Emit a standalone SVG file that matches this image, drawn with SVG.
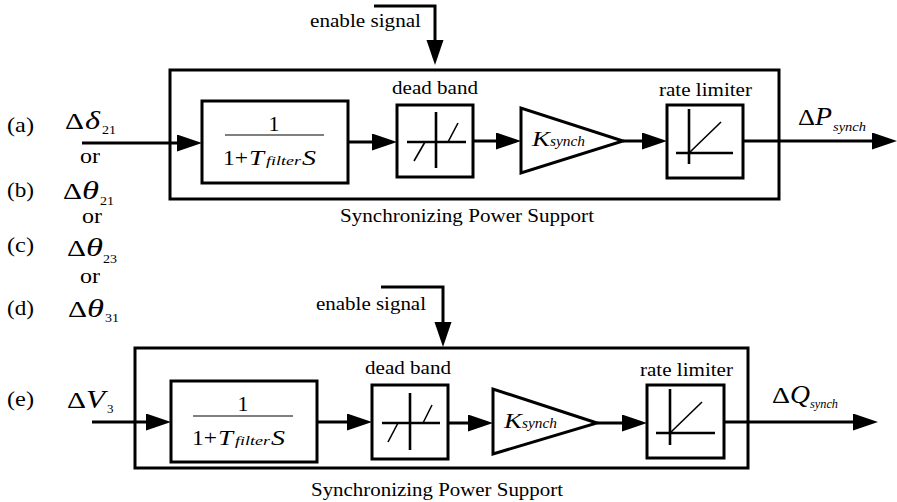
<svg xmlns="http://www.w3.org/2000/svg" width="897" height="502" viewBox="0 0 897 502">
<style>
.bx{fill:none;stroke:#000;stroke-width:3}
.ln{fill:none;stroke:#000;stroke-width:2.6}
.th{fill:none;stroke:#000;stroke-width:1.6}
.fr{stroke:#555;stroke-width:1.4}
.cn{fill:none;stroke:#000;stroke-width:3;marker-end:url(#ah)}
text{font-family:"Liberation Serif","Times New Roman",serif;fill:#000}
.t{font-size:19px}
.p{font-size:21px}
.m{font-size:22px}
.d{font-size:24px}
.g{font-size:25px}
.i{font-style:italic}
.s{font-size:13px}
</style>
<defs>
<marker id="ah" markerUnits="userSpaceOnUse" viewBox="0 0 26 18" markerWidth="26" markerHeight="18" refX="15" refY="8.5" orient="auto">
<path d="M0,0 L25,8.5 L0,17 z" fill="#000"/>
</marker>
</defs>
<rect width="897" height="502" fill="#fff"/>

<g id="inputs">
<text class="p" x="7" y="132" textLength="27" lengthAdjust="spacingAndGlyphs">(a)</text>
<text class="d" x="65" y="129" textLength="19" lengthAdjust="spacingAndGlyphs">Δ</text>
<text class="g i" x="85" y="129" textLength="15" lengthAdjust="spacingAndGlyphs">δ</text>
<text class="s" x="102" y="134" textLength="14" lengthAdjust="spacingAndGlyphs">21</text>
<text class="p" x="80" y="163" textLength="20" lengthAdjust="spacingAndGlyphs">or</text>
<text class="p" x="7" y="197" textLength="27" lengthAdjust="spacingAndGlyphs">(b)</text>
<text class="d" x="63" y="199" textLength="19" lengthAdjust="spacingAndGlyphs">Δ</text>
<text class="g i" x="82" y="199" textLength="17" lengthAdjust="spacingAndGlyphs">θ</text>
<text class="s" x="100" y="205" textLength="14" lengthAdjust="spacingAndGlyphs">21</text>
<text class="p" x="82" y="223" textLength="20" lengthAdjust="spacingAndGlyphs">or</text>
<text class="p" x="7" y="252" textLength="27" lengthAdjust="spacingAndGlyphs">(c)</text>
<text class="d" x="67" y="256" textLength="19" lengthAdjust="spacingAndGlyphs">Δ</text>
<text class="g i" x="86" y="256" textLength="17" lengthAdjust="spacingAndGlyphs">θ</text>
<text class="s" x="103" y="263" textLength="14" lengthAdjust="spacingAndGlyphs">23</text>
<text class="p" x="80" y="283" textLength="20" lengthAdjust="spacingAndGlyphs">or</text>
<text class="p" x="7" y="315" textLength="27" lengthAdjust="spacingAndGlyphs">(d)</text>
<text class="d" x="68" y="317" textLength="19" lengthAdjust="spacingAndGlyphs">Δ</text>
<text class="g i" x="87" y="317" textLength="17" lengthAdjust="spacingAndGlyphs">θ</text>
<text class="s" x="105" y="322" textLength="14" lengthAdjust="spacingAndGlyphs">31</text>
<text class="p" x="7" y="406" textLength="27" lengthAdjust="spacingAndGlyphs">(e)</text>
<text class="d" x="67" y="408" textLength="19" lengthAdjust="spacingAndGlyphs">Δ</text>
<text class="g i" x="86" y="408" textLength="19" lengthAdjust="spacingAndGlyphs">V</text>
<text class="s" x="107" y="413">3</text>
</g>

<g id="top-support">
<rect class="bx" x="170" y="70" width="609" height="129"/>
<text class="t" x="340" y="222" textLength="254" lengthAdjust="spacingAndGlyphs">Synchronizing Power Support</text>
</g>
<g id="top-enable">
<text class="t" x="310" y="27" textLength="111" lengthAdjust="spacingAndGlyphs">enable signal</text>
</g>
<g id="top-filter">
<rect class="bx" x="202" y="101" width="146" height="82"/>
<text class="m" x="274" y="131" text-anchor="middle">1</text>
<line class="fr" x1="225" y1="135" x2="324" y2="135"/>
<text class="m" x="223" y="165" textLength="25" lengthAdjust="spacingAndGlyphs">1+</text>
<text class="m i" x="249" y="165" textLength="15" lengthAdjust="spacingAndGlyphs">T</text>
<text class="s i" x="266" y="165" textLength="35" lengthAdjust="spacingAndGlyphs">filter</text>
<text class="m i" x="302" y="165" textLength="14" lengthAdjust="spacingAndGlyphs">S</text>
</g>
<g id="top-deadband">
<rect class="bx" x="397" y="105" width="76" height="72"/>
<line class="ln" x1="407" y1="142" x2="466" y2="142"/>
<line class="ln" x1="436" y1="112" x2="436" y2="168"/>
<line class="th" x1="414" y1="161" x2="425" y2="142"/>
<line class="th" x1="448" y1="142" x2="458" y2="123"/>
<text class="t" x="392" y="94" textLength="86" lengthAdjust="spacingAndGlyphs">dead band</text>
</g>
<g id="top-gain">
<polygon class="bx" points="521,108 521,173 623,141"/>
<text class="m i" x="532" y="146" textLength="18" lengthAdjust="spacingAndGlyphs">K</text>
<text class="s i" x="550" y="146" textLength="35" lengthAdjust="spacingAndGlyphs" style="font-size:15px">synch</text>
</g>
<g id="top-ratelimiter">
<rect class="bx" x="667" y="105" width="76" height="73"/>
<line class="ln" x1="689" y1="109" x2="689" y2="164"/>
<line class="ln" x1="676" y1="153" x2="733" y2="153"/>
<line class="th" x1="689" y1="153" x2="721" y2="122"/>
<text class="t" x="659" y="96" textLength="93" lengthAdjust="spacingAndGlyphs">rate limiter</text>
</g>
<g id="top-output">
<text class="d" x="798" y="125" textLength="17" lengthAdjust="spacingAndGlyphs">Δ</text>
<text class="g i" x="815" y="125" textLength="17" lengthAdjust="spacingAndGlyphs">P</text>
<text class="s i" x="833" y="131" textLength="33" lengthAdjust="spacingAndGlyphs">synch</text>
</g>

<g id="bottom-support">
<rect class="bx" x="135" y="348" width="613" height="120"/>
<text class="t" x="311" y="496" textLength="252" lengthAdjust="spacingAndGlyphs">Synchronizing Power Support</text>
</g>
<g id="bottom-enable">
<text class="t" x="316" y="310" textLength="110" lengthAdjust="spacingAndGlyphs">enable signal</text>
</g>
<g id="bottom-filter">
<rect class="bx" x="171" y="381" width="146" height="81"/>
<text class="m" x="243" y="411" text-anchor="middle">1</text>
<line class="fr" x1="193" y1="416" x2="293" y2="416"/>
<text class="m" x="192" y="445" textLength="25" lengthAdjust="spacingAndGlyphs">1+</text>
<text class="m i" x="218" y="445" textLength="15" lengthAdjust="spacingAndGlyphs">T</text>
<text class="s i" x="235" y="445" textLength="35" lengthAdjust="spacingAndGlyphs">filter</text>
<text class="m i" x="271" y="445" textLength="14" lengthAdjust="spacingAndGlyphs">S</text>
</g>
<g id="bottom-deadband">
<rect class="bx" x="372" y="385" width="76" height="74"/>
<line class="ln" x1="382" y1="423" x2="440" y2="423"/>
<line class="ln" x1="410" y1="393" x2="410" y2="450"/>
<line class="th" x1="388" y1="442" x2="398" y2="423"/>
<line class="th" x1="423" y1="423" x2="432" y2="405"/>
<text class="t" x="365" y="374" textLength="86" lengthAdjust="spacingAndGlyphs">dead band</text>
</g>
<g id="bottom-gain">
<polygon class="bx" points="493,389 493,454 597,423"/>
<text class="m i" x="504" y="428" textLength="18" lengthAdjust="spacingAndGlyphs">K</text>
<text class="s i" x="522" y="428" textLength="35" lengthAdjust="spacingAndGlyphs" style="font-size:15px">synch</text>
</g>
<g id="bottom-ratelimiter">
<rect class="bx" x="647" y="385" width="77" height="73"/>
<line class="ln" x1="670" y1="389" x2="670" y2="445"/>
<line class="ln" x1="656" y1="433" x2="715" y2="433"/>
<line class="th" x1="670" y1="433" x2="702" y2="402"/>
<text class="t" x="640" y="376" textLength="93" lengthAdjust="spacingAndGlyphs">rate limiter</text>
</g>
<g id="bottom-output">
<text class="d" x="772" y="403" textLength="18" lengthAdjust="spacingAndGlyphs">Δ</text>
<text class="g i" x="790" y="403" textLength="20" lengthAdjust="spacingAndGlyphs">Q</text>
<text class="s i" x="810" y="408" textLength="28" lengthAdjust="spacingAndGlyphs" style="font-size:12px">synch</text>
</g>

<g id="connectors">
<path class="cn" d="M374,6 H435 V55"/>
<path class="cn" d="M82,143 H192"/>
<path class="cn" d="M348,142 H387"/>
<path class="cn" d="M473,141 H511"/>
<path class="cn" d="M623,141 H657"/>
<path class="cn" d="M743,141 H887"/>
<path class="cn" d="M381,287 H443 V337"/>
<path class="cn" d="M92,422 H161"/>
<path class="cn" d="M317,422 H362"/>
<path class="cn" d="M448,423 H483"/>
<path class="cn" d="M597,423 H637"/>
<path class="cn" d="M724,422 H868"/>
</g>
</svg>
